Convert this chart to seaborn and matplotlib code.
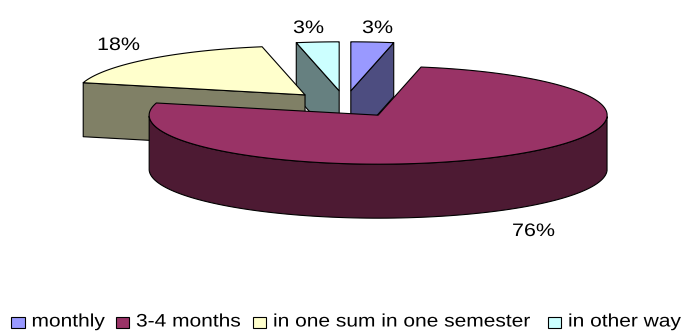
import numpy as np
import matplotlib
matplotlib.use("Agg")
import matplotlib.pyplot as plt
from matplotlib.patches import Rectangle
from matplotlib.patheffects import AbstractPathEffect
from matplotlib.transforms import Affine2D
import seaborn as sns

categories = ["monthly", "3-4 months", "in one sum in one semester", "in other way"]
shares = [3, 76, 18, 3]
face_colours = ["#9999FF", "#993366", "#FFFFCC", "#CCFFFF"]
side_colours = ["#4D4D80", "#4D1A33", "#808066", "#668080"]

sns.set_theme(style="white")
plt.rcParams["font.family"] = ["Liberation Sans", "DejaVu Sans"]

# Projection of the tilted pie, in figure pixels
CENTRE_X, CENTRE_Y = 345.0, 104.0
RADIUS_X, RADIUS_Y = 229.0, 49.0
DEPTH = 54.0
EXPLODE = [0.27, 0.27, 0.255, 0.27]
EDGE = dict(edgecolor="black", linewidth=0.8, joinstyle="round")
FONT_SIZE = 13


class WideText(AbstractPathEffect):
    """Draws text widened about its left baseline origin."""

    def __init__(self, factor):
        super().__init__()
        self.factor = factor

    def draw_path(self, renderer, gc, tpath, affine, rgbFace=None):
        renderer.draw_path(gc, tpath, Affine2D().scale(self.factor, 1) + affine, rgbFace)


fig = plt.figure(figsize=(6.83, 3.31), dpi=100)
ax = fig.add_axes([0, 0, 1, 1])
ax.set_xlim(0, 683)
ax.set_ylim(331, 0)
ax.axis("off")
sns.despine(ax=ax, left=True, bottom=True)


def project(angle, scale=1.0):
    """Clockwise angle from twelve o'clock to a point on the tilted disc."""
    return scale * RADIUS_X * np.sin(angle), -scale * RADIUS_Y * np.cos(angle)


fractions = np.array(shares) / sum(shares)
ends = np.cumsum(fractions) * 2 * np.pi
starts = ends - fractions * 2 * np.pi

wedges = []
for start, end, pull, face, side in zip(starts, ends, EXPLODE, face_colours, side_colours):
    mid = (start + end) / 2
    dx, dy = project(mid, pull)
    wedges.append((start, end, CENTRE_X + dx, CENTRE_Y + dy, face, side))

# Back slices first; the large front slice covers them
for start, end, vx, vy, face, side in sorted(wedges, key=lambda w: w[3]):
    arc = np.linspace(start, end, 160)
    ax_, ay_ = project(arc)
    rim_x, rim_y = vx + ax_, vy + ay_

    # Radial cut faces turned towards the viewer
    if np.sin(start) < 0:
        ax.fill([vx, rim_x[0], rim_x[0], vx], [vy, rim_y[0], rim_y[0] + DEPTH, vy + DEPTH],
                facecolor=side, **EDGE)
    if np.sin(end) > 0:
        ax.fill([vx, rim_x[-1], rim_x[-1], vx], [vy, rim_y[-1], rim_y[-1] + DEPTH, vy + DEPTH],
                facecolor=side, **EDGE)

    # Outer wall along the near half of the rim
    near = (arc >= np.pi / 2) & (arc <= 3 * np.pi / 2)
    if near.any():
        wall_x, wall_y = rim_x[near], rim_y[near]
        ax.fill(np.r_[wall_x, wall_x[::-1]], np.r_[wall_y, wall_y[::-1] + DEPTH],
                facecolor=side, **EDGE)

    # Top surface
    ax.fill(np.r_[vx, rim_x], np.r_[vy, rim_y], facecolor=face, **EDGE)

# Percentage labels, given by their left baseline origin
label_origins = [(362, 33), (512, 236), (97, 50), (293, 33)]
for share, (lx, ly) in zip(shares, label_origins):
    ax.text(lx, ly, f"{share}%", ha="left", va="baseline", fontsize=FONT_SIZE, color="black",
            path_effects=[WideText(1.19)])

# Legend row along the bottom edge
swatch_lefts = [11, 115.5, 252.5, 547.5]
for name, colour, left in zip(categories, face_colours, swatch_lefts):
    ax.add_patch(Rectangle((left, 316.5), 13.5, 11, facecolor=colour, edgecolor="black", linewidth=0.8))
    ax.text(left + 20.5, 326.5, name, ha="left", va="baseline", fontsize=FONT_SIZE, color="black",
            path_effects=[WideText(1.16)])

fig.savefig("out.png", dpi=100, facecolor="white")
